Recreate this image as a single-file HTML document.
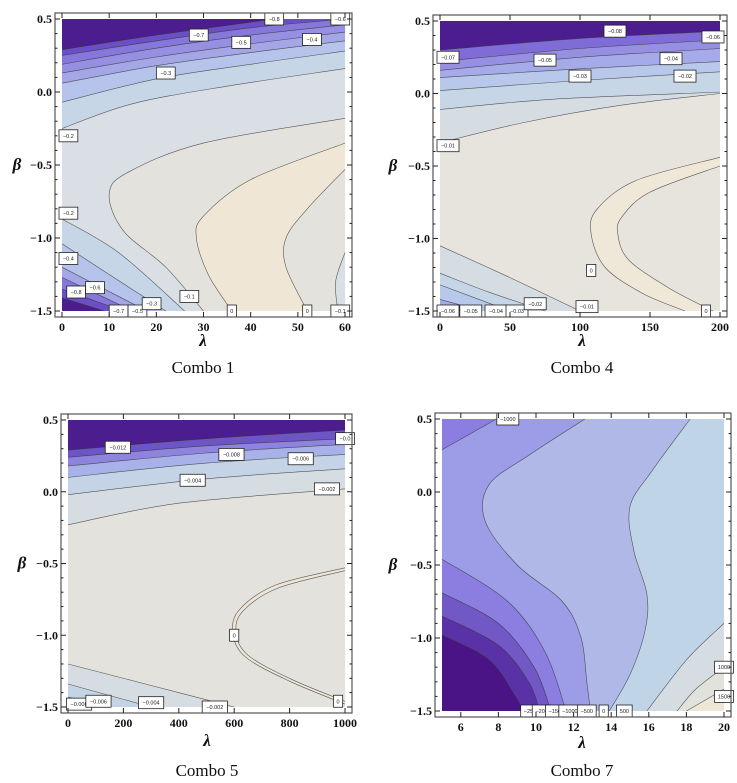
<!DOCTYPE html>
<html><head><meta charset="utf-8"><style>
html,body{margin:0;padding:0;background:#fff;width:737px;height:783px;overflow:hidden}
svg{display:block}
.tk{font-family:"Liberation Serif",serif;font-weight:bold;font-size:12px;fill:#111}
.ax{font-family:"Liberation Serif",serif;font-weight:bold;font-style:italic;font-size:17px;fill:#111}
.tt{font-family:"Liberation Serif",serif;font-size:17px;fill:#111}
.lb{font-family:"Liberation Sans",sans-serif;font-size:5.5px;fill:#222}
</style></head><body>
<svg id="root" width="737" height="783"></svg>
<script>
// ---- tick labels ----
const yTicks=[0.5,0,-0.5,-1,-1.5];
const yTickLabels=["0.5","0.0","\u22120.5","\u22121.0","\u22121.5"];
const p1XTicks=[0,10,20,30,40,50,60];
const p2XTicks=[0,50,100,150,200];
const p3XTicks=[0,200,400,600,800,1000];
const p4XTicks=[6,8,10,12,14,16,18,20];
const titles=["Combo 1","Combo 4","Combo 5","Combo 7"];

// ---- contour curves (lambda, beta) ----
const p1Top=[
 {c:"#c7d6e7",pts:[[0,-0.25],[15,-0.08],[35,0.04],[60,0.16]]},
 {c:"#b6c3ea",pts:[[0,-0.07],[20,0.09],[40,0.19],[60,0.28]]},
 {c:"#a4a6e6",pts:[[0,0.06],[20,0.18],[40,0.27],[60,0.35]]},
 {c:"#978fe2",pts:[[0,0.13],[20,0.24],[40,0.33],[60,0.41]]},
 {c:"#8677da",pts:[[0,0.19],[20,0.3],[40,0.39],[60,0.46]]},
 {c:"#6b4fc4",pts:[[0,0.25],[20,0.35],[40,0.44],[60,0.5]]},
 {c:"#4c1d8e",pts:[[0,0.29],[20,0.39],[45,0.5]]}
];
const p1Right=[
 {c:"#e3e2dc",pts:[[60,-0.18],[30,-0.35],[14,-0.55],[10,-0.7],[13,-0.95],[22,-1.2],[30,-1.5]]},
 {c:"#efe6d6",pts:[[60,-0.35],[40,-0.6],[30,-0.85],[28.5,-1.0],[31,-1.25],[36,-1.5]]},
 {c:"#e3e2dc",pts:[[60,-0.53],[52,-0.8],[47.5,-1.0],[47.5,-1.2],[52,-1.5]]},
 {c:"#d9dfe4",pts:[[60,-1.1],[58,-1.3],[58.5,-1.5]]}
];
const p1Bottom=[
 {c:"#c7d6e7",pts:[[0,-0.87],[12,-1.1],[26,-1.5]]},
 {c:"#b6c3ea",pts:[[0,-1.04],[10,-1.25],[22,-1.5]]},
 {c:"#a4a6e6",pts:[[0,-1.2],[9,-1.35],[18,-1.5]]},
 {c:"#8677da",pts:[[0,-1.27],[15,-1.5]]},
 {c:"#6b4fc4",pts:[[0,-1.35],[13,-1.5]]},
 {c:"#4c1d8e",pts:[[0,-1.41],[9,-1.5]]}
];
const p1Labels=[[45,0.5,"\u22120.8"],[59,0.5,"\u22120.6"],[29,0.39,"\u22120.7"],[38,0.34,"\u22120.5"],[53,0.36,"\u22120.4"],[22,0.13,"\u22120.3"],[0,-0.3,"\u22120.2"],[0,-0.83,"\u22120.2"],[0,-1.14,"\u22120.4"],[3,-1.37,"\u22120.8"],[7,-1.34,"\u22120.6"],[12,-1.5,"\u22120.7"],[16,-1.5,"\u22120.5"],[19,-1.45,"\u22120.3"],[27,-1.4,"\u22120.1"],[36,-1.5,"0"],[52,-1.5,"0"],[59,-1.5,"\u22120.1"]];
const p2Top=[
 {c:"#d6dde2",pts:[[0,-0.34],[60,-0.2],[130,-0.08],[200,0.0]]},
 {c:"#c6d6e6",pts:[[0,-0.11],[80,-0.04],[200,0.01]]},
 {c:"#b8c8ea",pts:[[0,0.02],[100,0.09],[200,0.15]]},
 {c:"#a5abe8",pts:[[0,0.11],[100,0.17],[200,0.22]]},
 {c:"#978fe2",pts:[[0,0.16],[100,0.25],[200,0.31]]},
 {c:"#7f6cd6",pts:[[0,0.22],[100,0.31],[200,0.37]]},
 {c:"#4c1d8e",pts:[[0,0.3],[100,0.38],[200,0.43]]}
];
const p2Right=[
 {c:"#efe7d8",pts:[[200,-0.44],[140,-0.6],[112,-0.8],[108,-0.97],[118,-1.2],[145,-1.38],[175,-1.5]]},
 {c:"#e6e4dc",pts:[[200,-0.5],[150,-0.68],[130,-0.85],[127,-0.97],[135,-1.15],[165,-1.35],[195,-1.5]]}
];
const p2Bottom=[
 {c:"#d6dde2",pts:[[0,-1.05],[50,-1.27],[100,-1.5]]},
 {c:"#c6d6e6",pts:[[0,-1.24],[35,-1.37],[75,-1.5]]},
 {c:"#b8c8ea",pts:[[0,-1.32],[50,-1.5]]},
 {c:"#a5abe8",pts:[[0,-1.42],[30,-1.5]]},
 {c:"#8677da",pts:[[0,-1.47],[15,-1.5]]}
];
const p2Labels=[[125,0.43,"\u22120.08"],[195,0.39,"\u22120.06"],[0,0.25,"\u22120.07"],[75,0.23,"\u22120.05"],[165,0.24,"\u22120.04"],[100,0.12,"\u22120.03"],[175,0.12,"\u22120.02"],[0,-0.36,"\u22120.01"],[108,-1.22,"0"],[190,-1.5,"0"],[5,-1.5,"\u22120.06"],[22,-1.5,"\u22120.05"],[40,-1.5,"\u22120.04"],[55,-1.5,"\u22120.03"],[68,-1.45,"\u22120.02"],[105,-1.47,"\u22120.01"]];
const p3Top=[
 {c:"#d5dce2",pts:[[0,-0.23],[400,-0.08],[1000,0.02]]},
 {c:"#c4d4e6",pts:[[0,-0.02],[500,0.09],[1000,0.16]]},
 {c:"#a8b2e8",pts:[[0,0.1],[500,0.2],[1000,0.26]]},
 {c:"#8e84de",pts:[[0,0.18],[500,0.27],[1000,0.33]]},
 {c:"#6e55c6",pts:[[0,0.24],[500,0.32],[1000,0.37]]},
 {c:"#4c1d8e",pts:[[0,0.29],[500,0.37],[1000,0.43]]}
];
const p3Right=[
 {c:"#ede6d7",pts:[[1000,-0.53],[750,-0.65],[620,-0.82],[595,-0.98],[640,-1.15],[800,-1.32],[1000,-1.48]]},
 {c:"#e4e2dc",pts:[[1000,-0.55],[760,-0.67],[632,-0.83],[607,-0.98],[650,-1.14],[810,-1.31],[1000,-1.46]]}
];
const p3Bottom=[
 {c:"#d5dce2",pts:[[0,-1.2],[300,-1.35],[600,-1.5]]},
 {c:"#c4d4e6",pts:[[0,-1.34],[150,-1.42],[300,-1.5]]},
 {c:"#a8b2e8",pts:[[0,-1.43],[150,-1.5]]}
];
const p3Labels=[[180,0.31,"\u22120.012"],[590,0.26,"\u22120.008"],[840,0.23,"\u22120.006"],[450,0.08,"\u22120.004"],[935,0.02,"\u22120.002"],[1000,0.37,"\u22120.0"],[600,-1.0,"0"],[975,-1.46,"0"],[40,-1.48,"\u22120.006"],[110,-1.46,"\u22120.006"],[300,-1.47,"\u22120.004"],[530,-1.5,"\u22120.002"]];
const p4Left=[
 {c:"#9d9ce6",pts:[[12.6,0.5],[9.6,0.25],[7.5,0.05],[7.3,-0.2],[9,-0.5],[11.4,-0.75],[12.4,-1.0],[12.7,-1.3],[12.9,-1.5]]},
 {c:"#8b7ee0",pts:[[7.9,0.5],[5,0.29]]},
 {c:"#8b7ee0",pts:[[5,-0.46],[8.5,-0.75],[10.5,-1.1],[11.6,-1.5]]},
 {c:"#7258c4",pts:[[5,-0.69],[8,-0.9],[9.9,-1.2],[10.8,-1.5]]},
 {c:"#5a32a8",pts:[[5,-0.85],[8,-1.05],[9.6,-1.3],[10.2,-1.5]]},
 {c:"#4a1486",pts:[[5,-0.98],[7.5,-1.15],[8.9,-1.4],[9.3,-1.5]]}
];
const p4Right=[
 {c:"#c0d4e8",pts:[[18.2,0.5],[16.2,0.15],[15.0,-0.1],[15.2,-0.4],[15.9,-0.7],[15.8,-0.95],[15.0,-1.25],[13.9,-1.5]]},
 {c:"#d5dde3",pts:[[20,-0.9],[18,-1.15],[15.9,-1.5]]},
 {c:"#e2e2dd",pts:[[20,-1.2],[18.5,-1.35],[17.5,-1.5]]},
 {c:"#eee6d6",pts:[[20,-1.35],[18,-1.5]]}
];
const p4Labels=[[8.5,0.5,"\u22121000"],[9.6,-1.5,"\u221225"],[10.3,-1.5,"\u2212200"],[11.0,-1.5,"\u2212150"],[11.8,-1.5,"\u22121000"],[12.7,-1.5,"\u2212500"],[13.6,-1.5,"0"],[14.7,-1.5,"500"],[20,-1.2,"1000"],[20,-1.4,"1500"]];

const panels=[
 {id:1,x0:62,x1:345,y0:19,y1:311,xmin:0,xmax:60,xt:p1XTicks,base:"#d9dfe4",top:p1Top,right:p1Right,bottom:p1Bottom,left:[],labels:p1Labels,bx:17,lx:203,ly:346,ty:373},
 {id:4,x0:440,x1:720,y0:21,y1:311,xmin:0,xmax:200,xt:p2XTicks,base:"#e6e4dc",top:p2Top,right:p2Right,bottom:p2Bottom,left:[],labels:p2Labels,bx:393,lx:582,ly:346,ty:373},
 {id:5,x0:68,x1:345,y0:420,y1:707,xmin:0,xmax:1000,xt:p3XTicks,base:"#e4e2dc",top:p3Top,right:p3Right,bottom:p3Bottom,left:[],labels:p3Labels,bx:22,lx:207,ly:746,ty:776},
 {id:7,x0:442,x1:724,y0:419,y1:711,xmin:5,xmax:20,xt:p4XTicks,base:"#b0b8e8",top:[],right:p4Right,bottom:[],left:p4Left,labels:p4Labels,bx:393,lx:582,ly:748,ty:776}
];
const NS="http://www.w3.org/2000/svg";
const root=document.getElementById('root');
function mk(tag,attrs,parent){const e=document.createElementNS(NS,tag);for(const k in attrs)e.setAttribute(k,attrs[k]);parent.appendChild(e);return e;}
function smooth(p){let d="M"+p[0][0].toFixed(1)+","+p[0][1].toFixed(1);
 for(let i=0;i<p.length-1;i++){const a=p[i-1]||p[i],b=p[i],c=p[i+1],e=p[i+2]||c;
  d+=" C"+(b[0]+(c[0]-a[0])/6).toFixed(1)+","+(b[1]+(c[1]-a[1])/6).toFixed(1)+" "+(c[0]-(e[0]-b[0])/6).toFixed(1)+","+(c[1]-(e[1]-b[1])/6).toFixed(1)+" "+c[0].toFixed(1)+","+c[1].toFixed(1);}
 return d;}
panels.forEach((P,pi)=>{
 const sx=v=>P.x0+(v-P.xmin)/(P.xmax-P.xmin)*(P.x1-P.x0);
 const sy=v=>P.y0+(0.5-v)/2*(P.y1-P.y0);
 const g=mk('g',{},root);
 
 
 const bg=mk('rect',{x:P.x0,y:P.y0,width:P.x1-P.x0,height:P.y1-P.y0,fill:P.base},g);
 
 
 const band=(b,corners,name)=>{const pts=b.pts.map(q=>[sx(q[0]),sy(q[1])]);
  let d=smooth(pts);corners.forEach(c=>{d+=" L"+sx(c[0]).toFixed(1)+","+sy(c[1]).toFixed(1);});d+=" Z";
  const r=mk('path',{d:d,fill:b.c,stroke:"none"},g);
  
  
  const l=mk('path',{d:smooth(pts),fill:"none",stroke:"#333",'stroke-width':0.6,'stroke-opacity':0.8},g);
  
  };
 P.right.forEach(b=>{const s=b.pts[0];band(b,[[P.xmax,-1.5],[P.xmax,s[1]]],'contour-region');});
 P.top.forEach(b=>band(b,[[P.xmax,0.5],[P.xmin,0.5]],'contour-band'));
 P.bottom.forEach(b=>band(b,[[P.xmin,-1.5]],'contour-band'));
 P.left.forEach(b=>{const s=b.pts[0],e=b.pts[b.pts.length-1];
  if(s[1]===0.5&&e[1]===-1.5)band(b,[[P.xmin,-1.5],[P.xmin,0.5]],'contour-region');
  else if(s[1]===0.5)band(b,[[P.xmin,0.5]],'contour-region');
  else band(b,[[P.xmin,-1.5]],'contour-region');});
 P.labels.forEach(L=>{const w=L[2].length*3.2+6,cx=Math.min(Math.max(sx(L[0]),P.x0+w/2-3),P.x1+w/2-6),cy=sy(L[1]);
  const lg=mk('g',{},g);
  
  
  mk('rect',{x:cx-w/2,y:cy-6,width:w,height:12,fill:"#fff",stroke:"#222",'stroke-width':0.8},lg);
  const t=mk('text',{x:cx,y:cy+2,'text-anchor':'middle',class:'lb'},lg);t.textContent=L[2];});
 const fx0=P.x0-7,fx1=P.x1+7,fy0=P.y0-6,fy1=P.y1+6;
 const fr=mk('rect',{x:fx0,y:fy0,width:fx1-fx0,height:fy1-fy0,fill:"none",stroke:"#555",'stroke-width':1.2},g);
 
 
 yTicks.forEach((v,i)=>{const y=sy(v);
  mk('line',{x1:fx0,x2:fx0+5,y1:y,y2:y,stroke:"#222"},g);mk('line',{x1:fx1,x2:fx1-5,y1:y,y2:y,stroke:"#222"},g);
  const t=mk('text',{x:fx0-3,y:y+4,'text-anchor':'end',class:'tk'},g);t.textContent=yTickLabels[i];
  
  
  for(let k=1;k<5&&i<4;k++){const yy=sy(v-k*0.1);mk('line',{x1:fx0,x2:fx0+2.5,y1:yy,y2:yy,stroke:"#222"},g);mk('line',{x1:fx1,x2:fx1-2.5,y1:yy,y2:yy,stroke:"#222"},g);}});
 P.xt.forEach(v=>{const x=sx(v);
  mk('line',{x1:x,x2:x,y1:fy1,y2:fy1-5,stroke:"#222"},g);mk('line',{x1:x,x2:x,y1:fy0,y2:fy0+5,stroke:"#222"},g);
  const t=mk('text',{x:x,y:fy1+14,'text-anchor':'middle',class:'tk'},g);t.textContent=String(v);
  
  });
 const yb=mk('text',{x:P.bx,y:(P.y0+P.y1)/2+5,'text-anchor':'middle',class:'ax'},g);yb.textContent="\u03b2";
 
 
 const xl=mk('text',{x:P.lx,y:P.ly,'text-anchor':'middle',class:'ax'},g);xl.textContent="\u03bb";
 
 
 const tt=mk('text',{x:P.lx,y:P.ty,'text-anchor':'middle',class:'tt'},g);tt.textContent=titles[pi];
 
 
});
</script>
</body></html>
